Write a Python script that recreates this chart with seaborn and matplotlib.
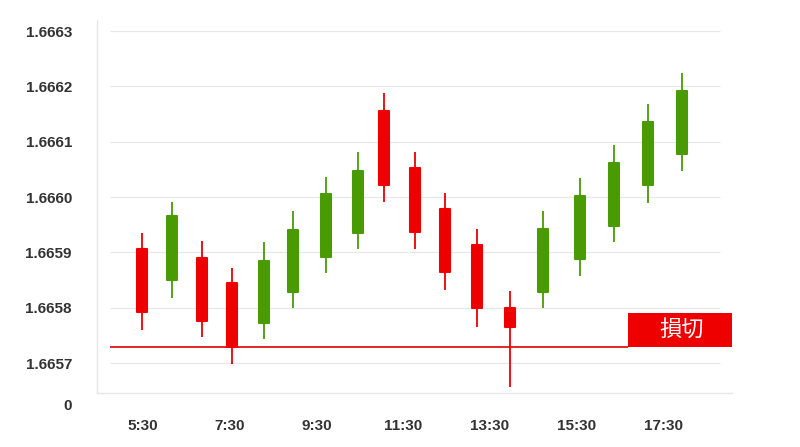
import matplotlib
matplotlib.use("Agg")
import matplotlib.pyplot as plt
import matplotlib.transforms as mtransforms
import pandas as pd
import seaborn as sns

# --------------------------
# Datos (velas por hora)
# --------------------------
times = ["5:29", "6:10", "6:52", "7:33", "8:17", "8:58", "9:43", "10:28", "11:04",
         "11:46", "12:28", "13:12", "13:58", "14:44", "15:35", "16:22", "17:09", "17:56"]
opens = [1.665906, 1.665850, 1.665890, 1.665844, 1.665772, 1.665828, 1.665892, 1.665935, 1.666156,
         1.666052, 1.665978, 1.665913, 1.665800, 1.665828, 1.665888, 1.665948, 1.666022, 1.666077]
highs = [1.665935, 1.665992, 1.665921, 1.665872, 1.665918, 1.665975, 1.666037, 1.666082, 1.666188,
         1.666082, 1.666007, 1.665942, 1.665831, 1.665974, 1.666035, 1.666094, 1.666168, 1.666225]
lows = [1.665760, 1.665817, 1.665747, 1.665698, 1.665743, 1.665799, 1.665862, 1.665906, 1.665992,
        1.665906, 1.665832, 1.665766, 1.665656, 1.665799, 1.665858, 1.665919, 1.665990, 1.666048]
closes = [1.665793, 1.665965, 1.665777, 1.665730, 1.665885, 1.665941, 1.666006, 1.666048, 1.666021,
          1.665937, 1.665864, 1.665799, 1.665766, 1.665942, 1.666002, 1.666061, 1.666136, 1.666192]

stop_level = 1.665730
stop_label = "損切"
ytick_values = [1.6657, 1.6658, 1.6659, 1.6660, 1.6661, 1.6662, 1.6663]
xtick_labels = ["5:30", "7:30", "9:30", "11:30", "13:30", "15:30", "17:30"]

UP = "#4a9a04"
DOWN = "#ee0000"
TEXT = "#333333"


def to_hours(s):
    h, m = s.split(":")
    return int(h) + int(m) / 60


df = pd.DataFrame({"time": times, "open": opens, "high": highs, "low": lows, "close": closes})
df["x"] = df["time"].map(to_hours)
df["color"] = [UP if c >= o else DOWN for o, c in zip(df["open"], df["close"])]
df["body_lo"] = df[["open", "close"]].min(axis=1)
df["body_h"] = (df["close"] - df["open"]).abs()

sns.set_theme(style="white")
plt.rcParams["font.family"] = ["Liberation Sans", "DejaVu Sans"]

fig = plt.figure(figsize=(8, 4.47), dpi=100)
ax = fig.add_axes([0.12125, 0.1208, 0.79375, 0.8345])

x_min, x_max = 4.44, 19.09
y_min, y_max = 1.665646, 1.666320
ax.set_xlim(x_min, x_max)
ax.set_ylim(y_min, y_max)

# líneas de guía
ax.hlines(ytick_values, 4.74, 18.81, color="#e8e8e8", lw=0.9, zorder=0)

# velas
ax.vlines(df["x"], df["low"], df["high"], colors=df["color"], lw=1.3, zorder=2)
ax.bar(df["x"], df["body_h"], bottom=df["body_lo"], width=0.23, color=df["color"],
       edgecolor=df["color"], linewidth=1.5, joinstyle="round", zorder=3)

# línea de stop loss + etiqueta
box_x0 = 16.70
box_h = 0.000060
ax.hlines(stop_level, 4.74, box_x0, color="#e00000", lw=1.2, zorder=1)
ax.fill_between([box_x0, x_max], stop_level, stop_level + box_h, color=DOWN, lw=0, zorder=4)
ax.text((box_x0 + x_max) / 2 + 0.03, stop_level + box_h / 2, stop_label, color="white", fontsize=16,
        ha="center", va="center", family=["Noto Sans CJK JP", "DejaVu Sans"], zorder=5)

# ejes
ax.set_xticks([to_hours(t) for t in xtick_labels])
ax.set_xticklabels(xtick_labels)
ax.set_yticks([y_min] + ytick_values)
ax.set_yticklabels(["0"] + [f"{v:.4f}" for v in ytick_values])
ax.tick_params(axis="y", length=0, pad=18, labelsize=11, labelcolor=TEXT)
ax.tick_params(axis="x", length=0, pad=19, labelsize=11, labelcolor=TEXT)
for lab in ax.get_xticklabels() + ax.get_yticklabels():
    lab.set_fontweight("bold")
zero = ax.get_yticklabels()[0]
zero.set_transform(zero.get_transform() + mtransforms.ScaledTranslation(0, -0.11, fig.dpi_scale_trans))

sns.despine(ax=ax)
for side in ["left", "bottom"]:
    ax.spines[side].set_color("#e6e6e6")
    ax.spines[side].set_linewidth(1)
ax.grid(False)

fig.savefig("out.png", dpi=100)
